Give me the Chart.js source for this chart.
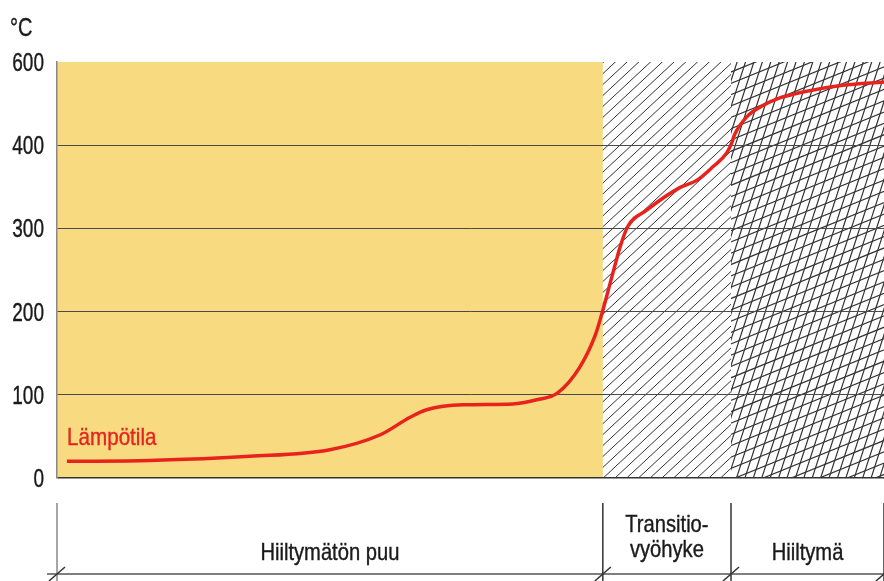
<!DOCTYPE html>
<html>
<head>
<meta charset="utf-8">
<script src="https://cdn.jsdelivr.net/npm/chart.js@4.4.1/dist/chart.umd.min.js"></script>
<style>
  html, body { margin: 0; padding: 0; background: #fff; }
  #wrap { width: 884px; height: 581px; }
</style>
</head>
<body>
<div id="wrap"><canvas id="chart"></canvas></div>
<script>
// distance across the section (0 = left edge of plot, 100 = right edge)
const depth = [1.2, 11.2, 23.3, 33.0, 39.1, 42.7, 44.7, 49.1, 55.1, 58.0, 60.5, 63.2, 65.1, 65.9,
  67.1, 68.1, 69.0, 71.3, 75.3, 77.4, 79.3, 81.0, 81.6, 81.9, 83.4, 85.4, 87.4, 88.6, 90.2, 95.0, 100];
// temperature, °C
const temperature = [20, 21, 26, 34, 52, 73, 82, 88, 89, 94, 102, 133, 172, 198,
  242, 278, 302, 322, 349, 358, 374, 391, 406, 424, 468, 496, 514, 520, 528, 544, 552];
const yTicks = [0, 100, 200, 300, 400, 600];
const zones = ["Hiiltymätön puu", "Transitio-\nvyöhyke", "Hiiltymä"];
const zoneEdges = [0, 66.0, 81.5, 100];
const seriesLabel = "Lämpötila";

// the axis above 400 °C is drawn at half scale (400..600 takes one step)
function toAxis(t) { return t <= 400 ? t : 400 + (t - 400) / 2; }

const FONT = '"Liberation Sans", Arial, sans-serif';

// narrow-looking text: regular face squeezed horizontally
function narrowText(ctx, text, x, y, size, sx, align) {
  ctx.save();
  ctx.font = size + "px " + FONT;
  ctx.translate(x, y);
  ctx.scale(sx, 1);
  ctx.textAlign = align;
  ctx.textBaseline = "alphabetic";
  ctx.fillText(text, 0, 0);
  ctx.lineWidth = 0.4;
  ctx.strokeStyle = ctx.fillStyle;
  ctx.strokeText(text, 0, 0);
  ctx.restore();
}

function hatch(ctx, left, top, right, bottom, angleDeg, spacing) {
  const a = angleDeg * Math.PI / 180;
  const dx = Math.cos(a), dy = -Math.sin(a);
  const nx = -dy, ny = dx;
  const cx = (left + right) / 2, cy = (top + bottom) / 2;
  const r = Math.hypot(right - left, bottom - top);
  ctx.save();
  ctx.beginPath();
  ctx.rect(left, top, right - left, bottom - top);
  ctx.clip();
  ctx.beginPath();
  for (let s = -r; s <= r; s += spacing) {
    const px = cx + nx * s, py = cy + ny * s;
    ctx.moveTo(px - dx * r, py - dy * r);
    ctx.lineTo(px + dx * r, py + dy * r);
  }
  ctx.stroke();
  ctx.restore();
}

const zonePlugin = {
  id: "zones",
  beforeDraw(chart) {
    const { ctx, chartArea: ca, scales: { x } } = chart;
    const x0 = x.getPixelForValue(zoneEdges[0]);
    const x1 = x.getPixelForValue(zoneEdges[1]);
    const x2 = x.getPixelForValue(zoneEdges[2]);
    const x3 = x.getPixelForValue(zoneEdges[3]);
    ctx.save();
    ctx.fillStyle = "#f8da80";
    ctx.fillRect(x0, ca.top, x1 - x0, ca.bottom - ca.top);
    ctx.strokeStyle = "#333";
    ctx.lineWidth = 1;
    hatch(ctx, x1, ca.top, x2, ca.bottom, 43, 8);
    ctx.lineWidth = 1.2;
    hatch(ctx, x2, ca.top, x3, ca.bottom, 22, 10.5);
    hatch(ctx, x2, ca.top, x3, ca.bottom, 72, 8);
    ctx.restore();
  },
  afterDraw(chart) {
    const { ctx, scales: { x, y } } = chart;
    ctx.save();
    ctx.fillStyle = "#1a1a1a";
    narrowText(ctx, "°C", 10, 36, 25, 0.8, "left");
    yTicks.forEach(t => {
      narrowText(ctx, String(t), 44, y.getPixelForValue(toAxis(t)) + 9, 25, 0.76, "right");
    });

    // series label
    ctx.fillStyle = "#e52521";
    narrowText(ctx, seriesLabel, 67, 445, 24, 0.86, "left");

    // zone table under the plot
    const lineY = 574;
    const edges = zoneEdges.map(v => x.getPixelForValue(v));
    ctx.lineWidth = 1.5;
    ctx.strokeStyle = "#555";
    ctx.beginPath();
    ctx.moveTo(47, lineY);
    ctx.lineTo(884, lineY);
    ctx.stroke();
    edges.forEach((ex, i) => {
      ctx.strokeStyle = i === 0 ? "#888" : "#333";
      ctx.beginPath();
      ctx.moveTo(ex, 503);
      ctx.lineTo(ex, 581);
      ctx.stroke();
      ctx.strokeStyle = "#333";
      ctx.beginPath();
      ctx.moveTo(ex - 8, lineY + 7);
      ctx.lineTo(ex + 8, lineY - 7);
      ctx.stroke();
    });
    ctx.fillStyle = "#1a1a1a";
    zones.forEach((name, i) => {
      const cx = (edges[i] + edges[i + 1]) / 2;
      const lines = name.split("\n");
      if (lines.length === 1) {
        narrowText(ctx, lines[0], cx, 560, 24, 0.84, "center");
      } else {
        narrowText(ctx, lines[0], cx, 532, 24, 0.84, "center");
        narrowText(ctx, lines[1], cx, 557, 24, 0.84, "center");
      }
    });
    ctx.restore();
  }
};

new Chart(document.getElementById("chart"), {
  type: "line",
  data: {
    datasets: [{
      label: seriesLabel,
      data: depth.map((d, i) => ({ x: d, y: toAxis(temperature[i]) })),
      borderColor: "#e8231d",
      borderWidth: 3.5,
      pointRadius: 0,
      cubicInterpolationMode: "monotone",
      fill: false,
    }],
  },
  plugins: [zonePlugin],
  options: {
    responsive: true,
    maintainAspectRatio: false,
    animation: false,
    layout: { padding: { left: 0, top: 62, right: 0, bottom: 103 } },
    plugins: { legend: { display: false }, tooltip: { enabled: false } },
    scales: {
      x: { type: "linear", min: 0, max: 100, display: false },
      y: {
        min: 0,
        max: toAxis(600),
        afterFit(scale) { scale.width = 57; },
        afterBuildTicks(scale) { scale.ticks = yTicks.map(t => ({ value: toAxis(t) })); },
        ticks: { display: false },
        grid: {
          drawTicks: false,
          color: c => (c.tick.value === toAxis(600) ? "rgba(0,0,0,0)" : c.tick.value === 0 ? "#333" : "#4a4a4a"),
          lineWidth: c => (c.tick.value === 0 ? 1.5 : 1),
        },
        border: { color: "#888", width: 1.5 },
      },
    },
  },
});
</script>
</body>
</html>
